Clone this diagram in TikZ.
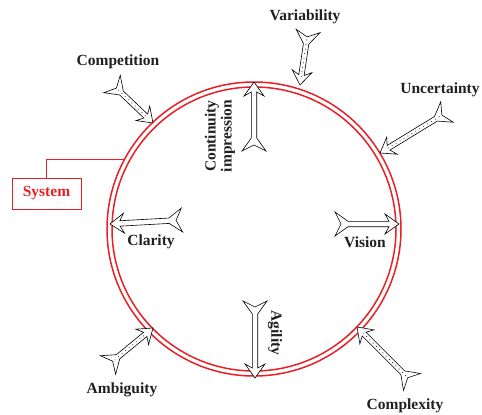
\documentclass[tikz,border=0pt]{standalone}
\usepackage{fontspec}
\setmainfont{Liberation Serif}
\usetikzlibrary{calc}
\definecolor{ringred}{RGB}{232,32,38}
\definecolor{txt}{RGB}{35,31,32}
\tikzset{
  lbl/.style={font=\fontsize{15.5}{16}\selectfont\bfseries, text=txt, inner sep=0pt},
  arrowline/.style={draw=black, fill=white, line width=0.6pt, line join=miter},
  dotline/.style={line width=1.1pt, dash pattern=on 0.1pt off 4.5pt, line cap=round, draw=black!75},
  ring/.style={draw=ringred, line width=1.5pt},
  sysbox/.style={draw=ringred, line width=0.7pt, text=ringred, minimum width=69pt, minimum height=31pt,
     font=\fontsize{15.5}{16}\selectfont\bfseries, inner sep=0pt},
}
% #1 tail coordinate, #2 tip coordinate, #3 1 = dotted shaft
\newcommand\farrow[3]{%
  \path let \p1=($(#2)-(#1)$) in \pgfextra{%
    \pgfmathsetmacro\fa{atan2(\y1,\x1)}%
    \pgfmathsetmacro\fl{veclen(\x1,\y1)}%
    \global\let\farang\fa\global\let\farlen\fl};
  \begin{scope}[shift={(#1)},rotate=\farang]
    \draw[arrowline] ({\farlen*1pt},0pt) -- ({\farlen*1pt-14pt},10pt) -- ({\farlen*1pt-10pt},2.7pt)
      -- (13pt,2.7pt) -- (0pt,12pt) -- (6pt,0pt) -- (0pt,-12pt) -- (13pt,-2.7pt)
      -- ({\farlen*1pt-10pt},-2.7pt) -- ({\farlen*1pt-14pt},-10pt) -- cycle;
    \ifnum#3=1
      \draw[dotline] (9pt,0pt) -- ({\farlen*1pt-8pt},0pt);
    \fi
  \end{scope}}
\begin{document}
\begin{tikzpicture}[x=1pt,y=-1pt]
\useasboundingbox (0,0) rectangle (482,415);
% ring
\coordinate (c) at (254,229);
\draw[ring] (c) circle[radius=147pt];
\draw[ring] (c) circle[radius=142pt];
% labels
\node[lbl] (var) at (305,17) {Variability};
\node[lbl] (comp) at (118,62) {Competition};
\node[lbl] (unc) at (440,90) {Uncertainty};
\node[lbl] (clar) at (151,242) {Clarity};
\node[lbl] (vis) at (365,242) {Vision};
\node[lbl] (amb) at (122,390) {Ambiguity};
\node[lbl] (cplx) at (405,406) {Complexity};
\node[lbl, rotate=90, align=center] (cont) at (220,136) {Continuity\\impression};
\node[lbl, rotate=-90] (agi) at (275,333) {Agility};
% system
\node[sysbox] (sys) at (46.5,193.5) {System};
\coordinate (syshit) at (125,159);
\draw[ringred, line width=0.7pt] (sys.north) |- (syshit);
% arrow end points
\coordinate (varT) at (308,31);  \coordinate (varH) at (300,85);
\coordinate (compT) at (112,84); \coordinate (compH) at (153,123);
\coordinate (uncT) at (447,112); \coordinate (uncH) at (380,153);
\coordinate (contT) at (254,151); \coordinate (contH) at (254,82);
\coordinate (clarT) at (182,220); \coordinate (clarH) at (110,224);
\coordinate (visT) at (335,224); \coordinate (visH) at (399,224);
\coordinate (agiT) at (255,301); \coordinate (agiH) at (255,378);
\coordinate (ambT) at (108,365); \coordinate (ambH) at (153,328);
\coordinate (cplxT) at (412,382); \coordinate (cplxH) at (357,327);
% arrows
\farrow{varT}{varH}{1}
\farrow{compT}{compH}{1}
\farrow{uncT}{uncH}{1}
\farrow{ambT}{ambH}{1}
\farrow{cplxT}{cplxH}{1}
\farrow{contT}{contH}{0}
\farrow{clarT}{clarH}{0}
\farrow{visT}{visH}{0}
\farrow{agiT}{agiH}{0}
\end{tikzpicture}
\end{document}
